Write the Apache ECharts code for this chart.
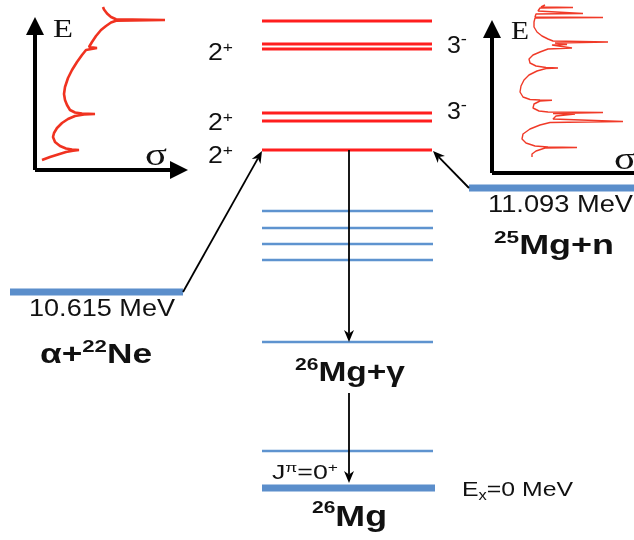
<!DOCTYPE html>
<html><head><meta charset="utf-8">
<script src="https://cdn.jsdelivr.net/npm/echarts@6/dist/echarts.min.js"></script>
<style>html,body{margin:0;padding:0;background:#fff}#c{width:634px;height:540px}</style>
</head><body><div id="c"></div>
<script>
// Diagram coordinates (x across, y downward = decreasing energy)
const levelSpan = [262, 432];
const resonanceLevels = [21, 44, 49, 113, 121, 150];      // 26Mg states above alpha threshold (red)
const boundLevels = [211, 228, 244, 260, 342, 451];       // 26Mg states (blue)
const groundLevel = 488;                                   // Ex = 0 MeV
const alphaThreshold = [10, 183, 292];                     // x1, x2, y  (10.615 MeV)
const neutronThreshold = [469, 634, 188];                  // x1, x2, y  (11.093 MeV)
const transitions = [[183, 292, 262, 151], [469, 188, 433, 151], [349, 150, 349, 342], [349, 393, 349, 483]];
const insetAxes = [[35, 170, 35, 17], [35, 170, 188, 170], [492, 173, 492, 20], [492, 173, 660, 173]];
const alphaCurve = [
 [42,160],[50,157],[58,154.5],[66,152],[73,150.7],[79,150],[72,149.5],[66,148.5],[60,146],[55,142],[53,137],[54,133],
 [57,128],[62,123],[68,119],[75,116],[84,114.5],[95,114],[82,113.6],[75,112.5],[70,110],[67,105],[65,100],[64,94],
 [65,87],[68,78],[72,70],[77,62],[82,55],[86,50],[88,48],[97,48],[89,47],[92,42],[96,36],[101,30],[106,26],[111,22.5],
 [116,20.7],[165,20],[116,19.3],[111,17],[107,13.5],[104,9.5],[103,7]
];
const neutronCurve = [
 [545,5],[541,7],[573,7.5],[540,8],[538,11],[536,13],[583,13.5],[536,14],[535,17],[603,17.5],[535,18],[534,22],[534,27],
 [537,32],[542,36],[548,39],[553,41],[608,42],[555,43],[567,44.5],[552,45],[572,48],[548,49],[540,52],[533,55],[529,59],
 [530,63],[536,66],[546,67.5],[558,68],[546,68.5],[537,71],[529,75],[524,80],[521,86],[520,92],[523,97],[530,99.5],
 [540,100],[552,100.2],[540,101],[534,104],[533,108],[539,111],[548,112],[603,112.5],[553,113.5],[575,114],[556,116],
 [553,119],[623,121.5],[550,122.5],[540,125],[530,129],[523,134],[522,139],[526,143],[535,146],[548,147],[577,147.5],
 [545,148],[536,151],[532,154],[532,157]
];

const SANS = "'Liberation Sans', Arial, Helvetica, sans-serif";
const SERIF = "'Liberation Serif', 'Times New Roman', serif";

function segSeries(data, color, width, z) {
  return {
    type: 'custom', coordinateSystem: 'cartesian2d', data: data, encode: {x: [0, 2], y: [1, 3]},
    z: z, silent: true, animation: false, clip: false,
    renderItem: function (p, api) {
      const a = api.coord([api.value(0), api.value(1)]);
      const b = api.coord([api.value(2), api.value(3)]);
      return {type: 'line', shape: {x1: a[0], y1: a[1], x2: b[0], y2: b[1]}, style: {stroke: color, lineWidth: width}};
    }
  };
}
function arrowSeries(data, width, L, W, notch, z) {
  return {
    type: 'custom', coordinateSystem: 'cartesian2d', data: data, encode: {x: [0, 2], y: [1, 3]},
    z: z, silent: true, animation: false, clip: false,
    renderItem: function (p, api) {
      const a = api.coord([api.value(0), api.value(1)]);
      const b = api.coord([api.value(2), api.value(3)]);
      const dx = b[0] - a[0], dy = b[1] - a[1], len = Math.hypot(dx, dy);
      const ux = dx / len, uy = dy / len, nx = -uy, ny = ux;
      const bx = b[0] - ux * L * notch, by = b[1] - uy * L * notch;
      return {type: 'group', children: [
        {type: 'line', shape: {x1: a[0], y1: a[1], x2: bx, y2: by}, style: {stroke: '#000', lineWidth: width}},
        {type: 'polygon', shape: {points: [
          [b[0], b[1]],
          [b[0] - ux * L + nx * W, b[1] - uy * L + ny * W],
          [bx, by],
          [b[0] - ux * L - nx * W, b[1] - uy * L - ny * W]
        ]}, style: {fill: '#000'}}
      ]};
    }
  };
}

const redSegs = resonanceLevels.map(y => [levelSpan[0], y, levelSpan[1], y]);
const blueSegs = boundLevels.map(y => [levelSpan[0], y, levelSpan[1] + 1, y]);
const thickSegs = [
  [levelSpan[0], groundLevel, levelSpan[1] + 3, groundLevel],
  [alphaThreshold[0], alphaThreshold[2], alphaThreshold[1], alphaThreshold[2]],
  [neutronThreshold[0], neutronThreshold[2], neutronThreshold[1], neutronThreshold[2]]
];

const mctx = document.createElement('canvas').getContext('2d');
function label(x, y, w, parts) {
  let cx = 0; const children = [];
  parts.forEach(p => {
    const font = (p.b ? 'bold ' : '') + p.s + 'px ' + (p.f || SANS);
    mctx.font = font;
    const tw = mctx.measureText(p.t).width;
    children.push({type: 'text', x: cx + (p.dx || 0), y: p.dy || 0, silent: true,
      style: {text: p.t, font: font, fill: '#111', textAlign: 'left', textVerticalAlign: 'middle', align: 'left', verticalAlign: 'middle'}});
    cx += tw + (p.dx || 0);
  });
  return {type: 'group', x: x, y: y, scaleX: w ? w / cx : 1, children: children, silent: true, z: 100};
}
const two = y => label(208, y, 25, [{t: '2', s: 23}, {t: '+', s: 15, dy: -6}]);
const three = y => label(447, y, 20, [{t: '3', s: 23}, {t: '-', s: 17, dy: -8}]);

const graphics = [
  two(54), two(124), two(157), three(47), three(113),
  label(29, 310, 146, [{t: '10.615 MeV', s: 23}]),
  label(488, 206, 145, [{t: '11.093 MeV', s: 23}]),
  label(40, 356, 112, [{t: 'α+', s: 27, b: true}, {t: '22', s: 17, b: true, dy: -9}, {t: 'Ne', s: 27, b: true}]),
  label(494, 247, 120, [{t: '25', s: 17, b: true, dy: -9}, {t: 'Mg+n', s: 27, b: true}]),
  label(295, 374, 110, [{t: '26', s: 17, b: true, dy: -9}, {t: 'Mg+γ', s: 27, b: true}]),
  label(312, 518, 75, [{t: '26', s: 17, b: true, dy: -10}, {t: 'Mg', s: 29, b: true}]),
  label(272, 473, 66, [{t: 'J', s: 20}, {t: 'π', s: 13, dy: -5}, {t: '=0', s: 20}, {t: '+', s: 13, dy: -5}]),
  label(462, 490, 111, [{t: 'E', s: 21}, {t: 'x', s: 14, dy: 6}, {t: '=0 MeV', s: 21}]),
  label(53, 30, 20, [{t: 'E', s: 25, f: SERIF}]),
  label(145, 157, 22, [{t: 'σ', s: 32, f: SERIF}]),
  label(511, 32, 18, [{t: 'E', s: 25, f: SERIF}]),
  label(614, 161, 22, [{t: 'σ', s: 32, f: SERIF}])
];

const chart = echarts.init(document.getElementById('c'), null, {renderer: 'canvas'});
chart.setOption({
  backgroundColor: '#fff',
  animation: false,
  grid: {left: 0, right: 0, top: 0, bottom: 0},
  xAxis: {type: 'value', min: 0, max: 634, show: false},
  yAxis: {type: 'value', min: 0, max: 540, inverse: true, show: false},
  series: [
    segSeries(redSegs, '#ff1e1e', 3.2, 2),
    segSeries(blueSegs, '#5e93cf', 2.5, 2),
    segSeries(thickSegs, '#5b8ecb', 7, 2),
    {type: 'line', data: alphaCurve, showSymbol: false, silent: true, z: 3,
     lineStyle: {color: '#f03220', width: 2.6}, animation: false},
    {type: 'line', data: neutronCurve, showSymbol: false, silent: true, z: 3,
     lineStyle: {color: '#f03a28', width: 1.4}, animation: false},
    arrowSeries(transitions, 1.8, 12, 5, 0.7, 5),
    arrowSeries(insetAxes, 4, 18, 9, 1, 5)
  ],
  graphic: graphics
});
</script></body></html>
